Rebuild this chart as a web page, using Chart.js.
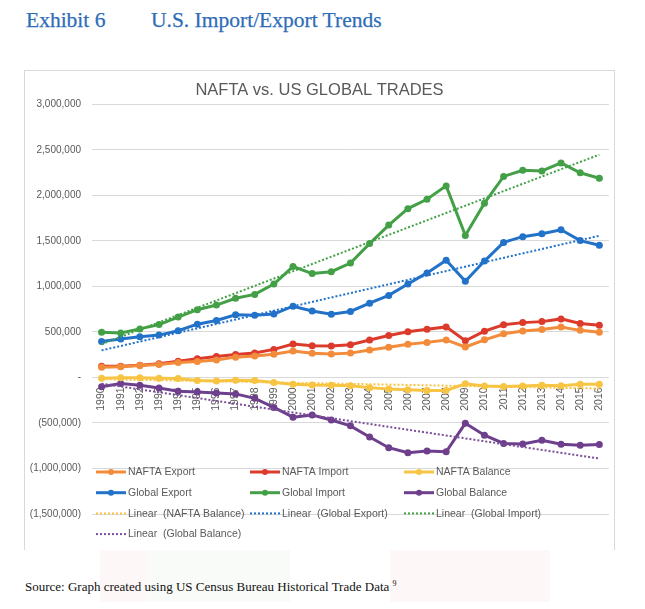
<!DOCTYPE html>
<html>
<head>
<meta charset="utf-8">
<script src="https://cdn.jsdelivr.net/npm/chart.js@4.4.1/dist/chart.umd.min.js"></script>
<style>
  body { margin: 0; background: #fff; width: 645px; height: 609px; position: relative; overflow: hidden; }
  .head { position: absolute; top: 8px; font-family: "Liberation Serif", "DejaVu Serif", serif; font-size: 21.5px; color: #2e6db8; white-space: nowrap; -webkit-text-stroke: 0.25px #2e6db8; }
  #box { position: absolute; left: 24px; top: 70px; width: 591px; height: 480px; border: 1px solid #d9d9d9; border-bottom: none; box-sizing: border-box; background: #fff; }
  #band { position: absolute; left: 100px; top: 550px; width: 450px; height: 52px; opacity: 0.3;
    background: linear-gradient(to right, #f9e6e6 0, #f9e6e6 47px, #e9f1e9 47px, #e9f1e9 190px, #fff 190px, #fff 290px, #f9e6e6 290px, #f9e6e6 450px); }
  #src { position: absolute; left: 25px; top: 579px; font-family: "Liberation Serif", serif; font-size: 13px; color: #111; white-space: nowrap; }
  #src sup { font-size: 8px; }
</style>
</head>
<body>
<div class="head" style="left:26px">Exhibit 6</div>
<div class="head" style="left:151px">U.S. Import/Export Trends</div>
<div id="band"></div>
<div id="box"><canvas id="tradeChart"></canvas></div>
<div id="src">Source: Graph created using US Census Bureau Historical Trade Data <sup>9</sup></div>

<script>
// values in millions of dollars
let years = ["1990","1991","1992","1993","1994","1995","1996","1997","1998","1999","2000","2001","2002",
  "2003","2004","2005","2006","2007","2008","2009","2010","2011","2012","2013","2014","2015","2016"];

let naftaExport = [112000, 118000, 131000, 142000, 165000, 174000, 191000, 223000, 235000, 254000, 290000, 265000, 258000,
  267000, 301000, 332000, 364000, 385000, 412000, 334000, 413000, 480000, 509000, 527000, 554000, 517000, 497000];
let naftaImport = [122000, 122000, 134000, 151000, 178000, 206000, 230000, 253000, 268000, 308000, 367000, 348000, 344000,
  360000, 412000, 460000, 501000, 528000, 555000, 403000, 508000, 578000, 602000, 613000, 643000, 593000, 572000];
let naftaBalance = [-10000, -4000, -3000, -9000, -13000, -33000, -39000, -30000, -33000, -55000, -76000, -83000, -85000,
  -92000, -112000, -128000, -136000, -143000, -143000, -69000, -95000, -99000, -93000, -86000, -90000, -75000, -76000];
let globalExport = [394000, 422000, 448000, 465000, 513000, 585000, 625000, 689000, 682000, 696000, 782000, 729000, 693000,
  725000, 815000, 901000, 1026000, 1148000, 1287000, 1056000, 1278000, 1483000, 1546000, 1579000, 1622000, 1503000, 1451000];
let globalImport = [495000, 488000, 533000, 581000, 663000, 744000, 795000, 870000, 912000, 1025000, 1218000, 1141000, 1161000,
  1257000, 1470000, 1673000, 1854000, 1957000, 2104000, 1560000, 1914000, 2208000, 2276000, 2268000, 2356000, 2248000, 2188000];
let globalBalance = [-102000, -67000, -85000, -116000, -151000, -159000, -170000, -181000, -230000, -329000, -436000, -412000, -468000,
  -532000, -655000, -772000, -828000, -809000, -816000, -504000, -635000, -725000, -730000, -690000, -734000, -745000, -736000];

// linear trendlines: value at first and last year
let trendNaftaBalance = [-19000, -122000];
let trendGlobalExport = [297000, 1556000];
let trendGlobalImport = [365000, 2447000];
let trendGlobalBalance = [-68000, -891000];

let yTicks = { min: -1500000, max: 3000000, step: 500000 };

Chart.defaults.font.family = "'Liberation Sans', Arial, sans-serif";
Chart.defaults.color = "#595959";

function series(label, data, color) {
  return {
    label: label, data: data, borderColor: color, backgroundColor: color,
    borderWidth: 3, pointRadius: 3.5, pointBorderWidth: 0, pointHoverRadius: 3.5,
    tension: 0, order: 1
  };
}

function trend(label, ends, color) {
  let last = years.length - 1;
  return {
    label: label,
    data: years.map((y, i) => i === 0 ? ends[0] : (i === last ? ends[1] : null)),
    borderColor: color, backgroundColor: color, borderWidth: 2, borderDash: [2, 2],
    pointRadius: 0, spanGaps: true, order: 0, isTrend: true
  };
}

function fmtTick(v) {
  if (v === 0) return "-";
  let s = Math.abs(v).toLocaleString("en-US");
  return v < 0 ? "(" + s + ")" : s;
}

// legend drawn inside the plot, three columns like the Excel original
const gridLegend = {
  id: "gridLegend",
  afterDraw(chart) {
    let ctx = chart.ctx;
    let x0 = 71, y0 = 401, colW = 154, rowH = 20.7;
    ctx.save();
    chart.data.datasets.forEach((ds, i) => {
      let x = x0 + (i % 3) * colW;
      let y = y0 + Math.floor(i / 3) * rowH;
      ctx.strokeStyle = ds.borderColor;
      ctx.lineWidth = ds.isTrend ? 2 : 3;
      ctx.setLineDash(ds.isTrend ? [2, 2] : []);
      ctx.beginPath();
      ctx.moveTo(x, y);
      ctx.lineTo(x + 30, y);
      ctx.stroke();
      ctx.setLineDash([]);
      if (!ds.isTrend) {
        ctx.fillStyle = ds.borderColor;
        ctx.beginPath();
        ctx.arc(x + 15, y, 3, 0, Math.PI * 2);
        ctx.fill();
      }
      ctx.fillStyle = "#595959";
      ctx.font = "10.5px 'Liberation Sans', Arial, sans-serif";
      ctx.textBaseline = "middle";
      ctx.fillText(ds.label, x + 32, y + 0.5);
    });
    ctx.restore();
  }
};

let ctx = document.getElementById("tradeChart").getContext("2d");
let tradeChart = new Chart(ctx, {
  type: "line",
  data: {
    labels: years,
    datasets: [
      series("NAFTA Export", naftaExport, "#f28c3b"),
      series("NAFTA Import", naftaImport, "#dc3b2c"),
      series("NAFTA Balance", naftaBalance, "#f7c443"),
      series("Global Export", globalExport, "#2272c9"),
      series("Global Import", globalImport, "#43a047"),
      series("Global Balance", globalBalance, "#6e3f8d"),
      trend("Linear  (NAFTA Balance)", trendNaftaBalance, "#f7c443"),
      trend("Linear  (Global Export)", trendGlobalExport, "#2272c9"),
      trend("Linear  (Global Import)", trendGlobalImport, "#43a047"),
      trend("Linear  (Global Balance)", trendGlobalBalance, "#7a4e98")
    ]
  },
  options: {
    responsive: true,
    maintainAspectRatio: false,
    animation: false,
    layout: { padding: { left: 0, right: 0, top: 0, bottom: 36 } },
    plugins: {
      legend: { display: false },
      tooltip: { enabled: false },
      title: {
        display: true,
        text: "NAFTA vs. US GLOBAL TRADES",
        color: "#595959",
        font: { size: 16.5, weight: "normal" },
        padding: { top: 10, bottom: 3.5 }
      }
    },
    scales: {
      x: {
        position: { y: 0 },
        offset: true,
        grid: { display: false },
        border: { display: false },
        ticks: { autoSkip: false, minRotation: 90, maxRotation: 90, padding: 2, font: { size: 10.5 }, color: "#595959" }
      },
      y: {
        min: yTicks.min,
        max: yTicks.max,
        grid: { color: "#d9d9d9", drawTicks: false },
        border: { display: false },
        ticks: { stepSize: yTicks.step, padding: 11, font: { size: 10 }, color: "#595959", callback: fmtTick },
        afterFit: (s) => { s.width = 67; }
      }
    }
  },
  plugins: [gridLegend]
});
</script>
</body>
</html>
